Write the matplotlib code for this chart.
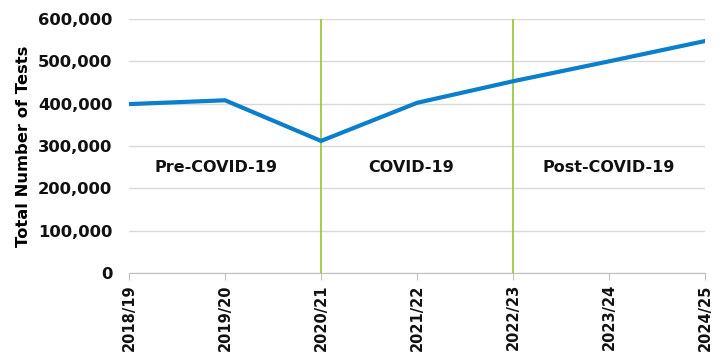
import matplotlib
matplotlib.use("Agg")
import matplotlib.pyplot as plt
from matplotlib.ticker import FuncFormatter

plt.rcParams['font.family'] = ['DejaVu Sans']

years = ["2018/19", "2019/20", "2020/21", "2021/22", "2022/23", "2023/24", "2024/25"]
tests = [399000, 408000, 312000, 402000, 453000, 500000, 548000]
period_labels = ["Pre-COVID-19", "COVID-19", "Post-COVID-19"]
period_label_x = [0.906, 2.94, 5.0]
period_label_y = 250000
boundaries = [2, 4]

fig = plt.figure(figsize=(7.22, 3.56), dpi=100)
ax = fig.add_axes([0.1787, 0.2331, 0.7978, 0.7135])

x = list(range(len(years)))
ax.plot(x, tests, color="#0A7FCC", lw=3, solid_joinstyle="miter", zorder=3)
for b in boundaries:
    ax.axvline(b, color="#9BCB3B", lw=1.3, zorder=2)
for lab, lx in zip(period_labels, period_label_x):
    ax.text(lx, period_label_y, lab, ha="center", va="center", fontsize=11.5, fontweight="bold", color="#111111")

ax.set_xlim(0, 6)
ax.set_ylim(0, 600000)
ax.set_yticks(range(0, 600001, 100000))
ax.yaxis.set_major_formatter(FuncFormatter(lambda v, p: f"{int(v):,}"))
ax.set_xticks(x)
ax.set_xticklabels(years, rotation=90, fontsize=10.5, fontweight="bold")
for t in ax.get_yticklabels():
    t.set_fontweight("bold")
    t.set_fontsize(11.8)
ax.grid(axis="y", color="#D9D9D9", lw=1)
ax.set_axisbelow(True)
for s in ["top", "right", "left"]:
    ax.spines[s].set_visible(False)
ax.spines["bottom"].set_color("#BFBFBF")
ax.tick_params(axis="y", length=0, pad=12, colors="#111111")
ax.tick_params(axis="x", length=5, color="#BFBFBF", pad=3, colors="#111111")
ax.set_ylabel("Total Number of Tests", fontsize=11.8, fontweight="bold", labelpad=5)

fig.savefig("out.png", dpi=100)
